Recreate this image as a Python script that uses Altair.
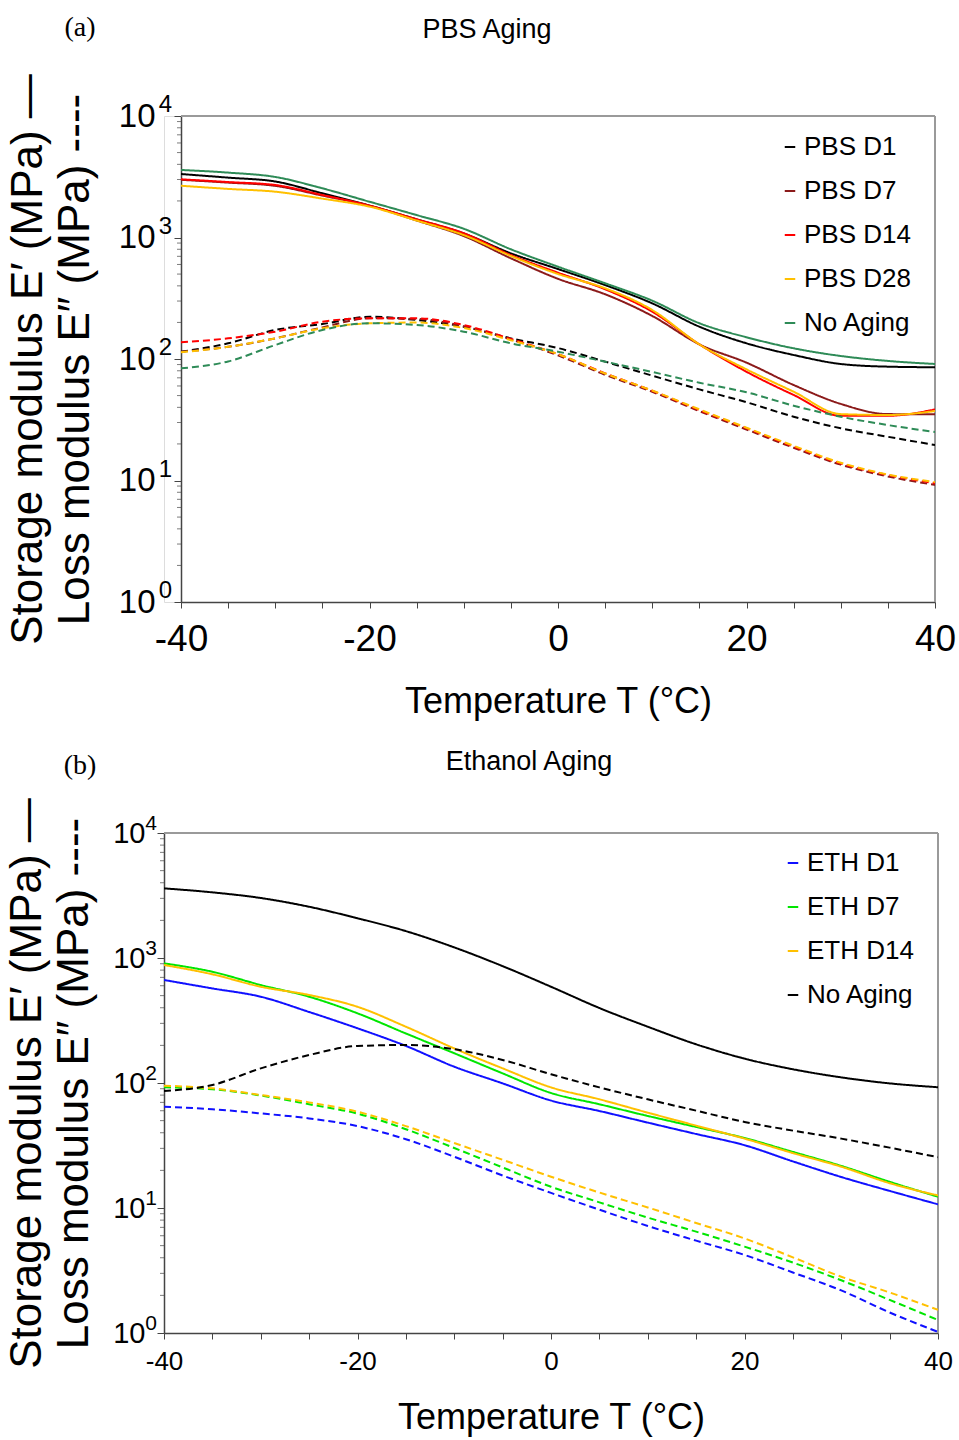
import altair as alt
import pandas as pd

T = [-40, -35, -30, -25, -20, -15, -10, -5, 0, 5, 10, 15, 20, 25, 30, 35, 40]

# ---------------- Panel (a): PBS aging ----------------
pbs_series = ["PBS D1", "PBS D7", "PBS D14", "PBS D28", "No Aging"]
pbs_colors = ["#000000", "#8B1A1A", "#FF0000", "#FFC000", "#2E8B57"]

pbs_d1_storage = [3330, 3110, 2890, 2310, 1830, 1410, 1080, 741, 550, 406, 287, 184.5, 134.6, 107.9, 91.0, 86.5, 85.5]
pbs_d7_storage = [2985, 2830, 2661, 2213, 1828, 1380, 1028, 674.5, 457, 341, 226, 132, 93.3, 61.1, 42.7, 35.2, 35.1]
pbs_d14_storage = [3013, 2860, 2704, 2239, 1828, 1413, 1084, 718, 513, 375, 245, 132, 78.5, 50.6, 34.1, 34.1, 38.5]
pbs_d28_storage = [2667, 2512, 2382, 2089, 1795, 1380, 1047, 705, 501, 382, 253, 132, 82.2, 53.8, 35.2, 34.6, 37.3]
pbs_none_storage = [3597, 3420, 3150, 2540, 1970, 1530, 1180, 800, 575, 420, 302, 197, 151, 122.5, 105.9, 96.4, 91.0]

pbs_d1_loss = [114.8, 134.6, 173.4, 194.1, 222.8, 209.4, 184.5, 147.9, 123.0, 95.1, 72.9, 56.2, 44.1, 33.5, 26.9, 22.9, 19.6]
pbs_d7_loss = [114.8, 125.9, 147.9, 182.0, 216.3, 213.8, 186.2, 144.5, 107.2, 74.1, 53.7, 37.2, 26.3, 18.6, 13.5, 10.8, 9.2]
pbs_d14_loss = [137.1, 147.9, 167.9, 202.8, 216.3, 216.3, 190.5, 146.2, 109.6, 76.2, 54.8, 38.0, 26.9, 19.0, 13.8, 11.1, 9.5]
pbs_d28_loss = [113.5, 125.9, 147.9, 179.1, 196.8, 199.5, 179.9, 142.9, 109.6, 75.9, 55.0, 38.5, 27.2, 19.3, 14.0, 11.2, 9.7]
pbs_none_loss = [83.8, 95.5, 130.3, 173.4, 196.8, 190.5, 167.9, 134.6, 114.8, 95.1, 78.2, 63.8, 53.2, 41.3, 33.5, 28.6, 25.1]

# ---------------- Panel (b): Ethanol aging ----------------
eth_series = ["ETH D1", "ETH D7", "ETH D14", "No Aging"]
eth_colors = ["#1010FF", "#00E600", "#FFC000", "#000000"]

eth_d1_storage = [667, 571, 490, 370, 274, 198, 135, 99.3, 72.4, 59.7, 48.2, 39.1, 31.8, 23.6, 17.7, 13.7, 10.7]
eth_d7_storage = [906, 776, 608, 490, 361, 249, 173, 119.4, 83.2, 67.6, 54.5, 44.5, 36.3, 28.1, 21.7, 16.2, 12.3]
eth_d14_storage = [879, 741, 589, 506, 407, 282, 189, 131, 92.3, 74.1, 57.9, 45.6, 35.9, 27.5, 21.4, 15.8, 12.6]
eth_none_storage = [3606, 3350, 3020, 2570, 2080, 1641, 1216, 861, 589, 398, 282, 204, 156.7, 128.8, 110.9, 99.3, 92.5]

eth_d1_loss = [64.6, 61.7, 57.1, 52.1, 45.2, 35.5, 25.7, 18.2, 13.2, 9.7, 7.18, 5.48, 4.21, 3.05, 2.19, 1.46, 1.02]
eth_d7_loss = [92.5, 89.1, 79.4, 67.6, 56.9, 42.7, 30.2, 21.1, 14.8, 11.1, 8.38, 6.47, 4.91, 3.66, 2.64, 1.84, 1.27]
eth_d14_loss = [95.1, 90.6, 80.2, 70.0, 58.9, 45.2, 33.1, 24.3, 17.8, 13.3, 10.1, 7.59, 5.71, 4.03, 2.82, 2.11, 1.53]
eth_none_loss = [86.3, 96.4, 130.9, 167.5, 197.7, 201.4, 186.2, 153.0, 117.5, 92.3, 74.0, 60.1, 48.8, 41.6, 35.9, 30.4, 25.5]

x_tick_values = [-40, -35, -30, -25, -20, -15, -10, -5, 0, 5, 10, 15, 20, 25, 30, 35, 40]
y_major = [1, 10, 100, 1000, 10000]
y_exponents = ["0", "1", "2", "3", "4"]
y_minor = [2, 3, 4, 5, 6, 7, 8, 9, 20, 30, 40, 50, 60, 70, 80, 90,
           200, 300, 400, 500, 600, 700, 800, 900, 2000, 3000, 4000, 5000, 6000, 7000, 8000, 9000]
x_lim = [-40, 40]
y_lim = [1, 10000]

SANS = "Liberation Sans, Arial, sans-serif"
SERIF = "Liberation Serif, Times New Roman, serif"
FRAME = "#9a9a9a"


def build_df(series, storages, losses):
    rows = []
    for name, s, l in zip(series, storages, losses):
        for t, v in zip(T, s):
            rows.append({"T": t, "value": v, "series": name, "kind": "storage"})
        for t, v in zip(T, l):
            rows.append({"T": t, "value": v, "series": name, "kind": "loss"})
    return pd.DataFrame(rows)


def panel(df, series, colors, p):
    s = p["shift"]  # inset of the plot frame inside the view group
    yscale = alt.Scale(type="log", domain=y_lim, nice=False)
    xscale = alt.Scale(domain=x_lim, nice=False, zero=False, range=[s, p["w"]])
    lines = alt.Chart(df).mark_line(strokeWidth=2, interpolate="monotone", clip=True).encode(
        x=alt.X("T:Q", scale=xscale, axis=alt.Axis(
            title="Temperature T (°C)", values=x_tick_values,
            labelExpr="datum.value % 20 == 0 ? '' + datum.value : ''",
            labelFont=SANS, labelFontSize=p["xlab_fs"], labelColor="#000",
            titleFont=SANS, titleFontSize=36, titleFontWeight="normal", titleColor="#000",
            titleX=(s + p["w"]) / 2,
            tickSize=6, tickColor="#444", domainColor="#444", domainWidth=1.5,
            labelPadding=p["xlab_pad"], titlePadding=p["xtitle_pad"], grid=False, labelFlush=False)),
        y=alt.Y("value:Q", scale=yscale, axis=alt.Axis(
            title=["Storage modulus E′ (MPa) —", "Loss modulus E″ (MPa) ----"],
            values=y_major, labelExpr="'10'", offset=-s,
            labelFont=SANS, labelFontSize=p["ylab_fs"], labelColor="#000",
            titleFont=SANS, titleFontSize=44, titleFontWeight="normal", titleColor="#000",
            titleLineHeight=47, tickSize=7, tickColor="#444", domainColor="#444", domainWidth=1.5,
            labelPadding=p["ylab_pad"], titlePadding=p["ytitle_pad"], grid=False)),
        color=alt.Color("series:N", scale=alt.Scale(domain=series, range=colors),
                        legend=alt.Legend(title=None, orient="none", legendX=p["legend_x"] + s,
                                          legendY=p["legend_y"],
                                          symbolType="stroke", symbolSize=110, symbolStrokeWidth=2,
                                          labelFont=SANS, labelFontSize=26, labelColor="#000",
                                          rowPadding=18, labelOffset=1)),
        strokeDash=alt.StrokeDash("kind:N", scale=alt.Scale(domain=["storage", "loss"], range=[[1, 0], [7, 4]]),
                                  legend=None),
        order="T:Q",
    )
    one = pd.DataFrame({"k": [0]})
    top_border = alt.Chart(one).mark_rule(color=FRAME, strokeWidth=2).encode(
        x=alt.datum(x_lim[0]), x2=alt.datum(x_lim[1]), y=alt.datum(y_lim[1]))
    right_border = alt.Chart(one).mark_rule(color=FRAME, strokeWidth=2).encode(
        x=alt.datum(x_lim[1]), y=alt.datum(y_lim[0]), y2=alt.datum(y_lim[1]))
    minor = alt.Chart(pd.DataFrame({"value": y_minor})).mark_tick(
        orient="horizontal", size=4, thickness=1, color="#444").encode(
        y=alt.Y("value:Q", scale=yscale), x=alt.value(s - 2))
    sup = alt.Chart(pd.DataFrame({"value": y_major, "exp": y_exponents})).mark_text(
        font=SANS, fontSize=p["sup_fs"], align="right", baseline="middle", color="#000",
        dy=p["sup_dy"]).encode(
        y=alt.Y("value:Q", scale=yscale), x=alt.value(s + p["sup_x"]), text="exp:N")
    tag_mark = alt.Chart(pd.DataFrame({"t": [p["tag"]]})).mark_text(
        font=SERIF, fontSize=28, align="center", baseline="middle", color="#000").encode(
        text="t:N", x=alt.value(s + p["tag_x"]), y=alt.value(p["tag_y"]))
    title_mark = alt.Chart(pd.DataFrame({"t": [p["title"]]})).mark_text(
        font=SANS, fontSize=27, align="center", baseline="middle", color="#000").encode(
        text="t:N", x=alt.value(s + p["title_x"]), y=alt.value(p["title_y"]))
    return alt.layer(top_border, right_border, lines, minor, sup, tag_mark, title_mark).properties(
        width=p["w"], height=p["h"])


df_a = build_df(pbs_series,
                [pbs_d1_storage, pbs_d7_storage, pbs_d14_storage, pbs_d28_storage, pbs_none_storage],
                [pbs_d1_loss, pbs_d7_loss, pbs_d14_loss, pbs_d28_loss, pbs_none_loss])
df_b = build_df(eth_series,
                [eth_d1_storage, eth_d7_storage, eth_d14_storage, eth_none_storage],
                [eth_d1_loss, eth_d7_loss, eth_d14_loss, eth_none_loss])

pa = panel(df_a, pbs_series, pbs_colors, dict(
    shift=17, w=771, h=486, xlab_fs=37, xlab_pad=13, xtitle_pad=27, ylab_fs=33, ylab_pad=19, ytitle_pad=21,
    sup_fs=24, sup_dy=-11, sup_x=-9, legend_x=596, legend_y=18,
    tag="(a)", tag_x=-101, tag_y=-88, title="PBS Aging", title_x=306, title_y=-86))
pb = panel(df_b, eth_series, eth_colors, dict(
    shift=0, w=774, h=500, xlab_fs=26, xlab_pad=9, xtitle_pad=26, ylab_fs=29, ylab_pad=12, ytitle_pad=16,
    sup_fs=21, sup_dy=-9, sup_x=-7, legend_x=616, legend_y=17,
    tag="(b)", tag_x=-84, tag_y=-67, title="Ethanol Aging", title_x=365, title_y=-71))

chart = alt.vconcat(pa, pb, spacing=27).resolve_scale(
    color="independent", strokeDash="independent").properties(
    padding={"left": 5, "top": 13, "right": 0, "bottom": 2}
).configure_view(stroke="transparent").configure(background="white")

chart.save("out.html", embed_options={"renderer": "svg", "actions": False})
